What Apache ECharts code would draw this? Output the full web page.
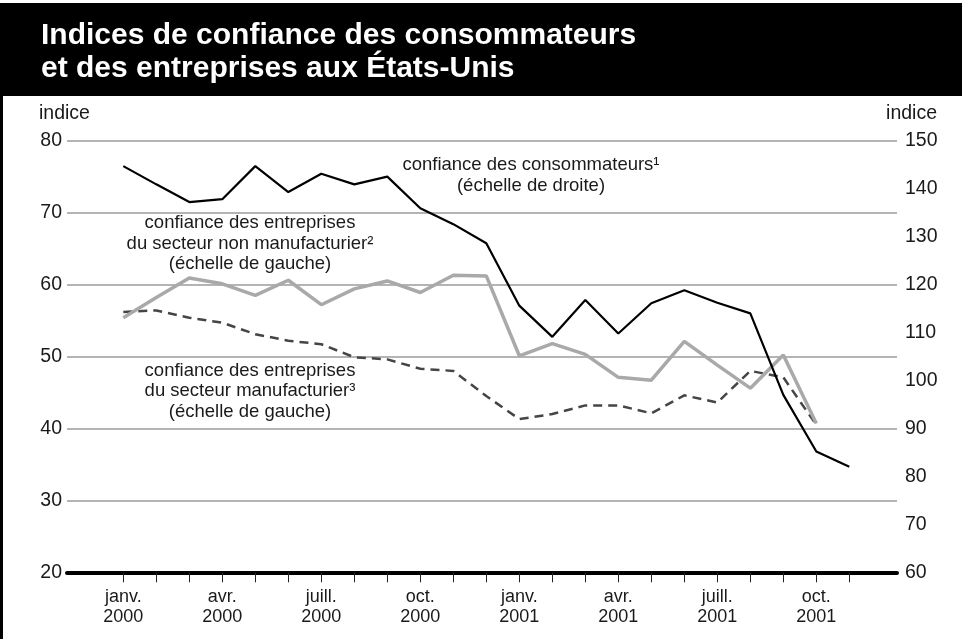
<!DOCTYPE html>
<html>
<head>
<meta charset="utf-8">
<script src="https://cdn.jsdelivr.net/npm/echarts@6/dist/echarts.min.js"></script>
<style>
	html, body { margin: 0; padding: 0; background: #fff; }
	#chart { width: 962px; height: 639px; }
</style>
</head>
<body>
<div id="chart"></div>
<script>
// mois : 0 = janv. 2000 ... 22 = nov. 2001
const tickMonths = [0, 1, 2, 3, 4, 5, 6, 7, 8, 9, 10, 11, 12, 13, 14, 15, 16, 17, 18, 19, 20, 21, 22];
const labelMonths = [0, 3, 6, 9, 12, 15, 18, 21];
const monthLabels = ['janv.\n2000', 'avr.\n2000', 'juill.\n2000', 'oct.\n2000',
	'janv.\n2001', 'avr.\n2001', 'juill.\n2001', 'oct.\n2001'];

// confiance des consommateurs (échelle de droite)
const consumers = [144.7, 140.9, 137.2, 137.8, 144.7, 139.3, 143.1, 140.9, 142.5, 135.9, 132.6, 128.6,
	115.6, 109.1, 116.8, 109.8, 116.1, 118.8, 116.2, 114.0, 97.0, 85.2, 82.0];
// secteur non manufacturier (échelle de gauche)
const nonManufacturing = [55.4, 58.2, 60.9, 60.1, 58.5, 60.6, 57.2, 59.4, 60.5, 58.9, 61.3, 61.2,
	50.1, 51.8, 50.3, 47.1, 46.7, 52.1, 48.8, 45.6, 50.2, 40.7];
// secteur manufacturier (échelle de gauche)
const manufacturing = [56.2, 56.4, 55.4, 54.7, 53.1, 52.2, 51.7, 49.9, 49.6, 48.3, 48.0, 44.5,
	41.3, 42.0, 43.2, 43.2, 42.1, 44.6, 43.6, 48.0, 47.1, 40.5];

const leftTicks = [20, 30, 40, 50, 60, 70, 80];
const rightTicks = [60, 70, 80, 90, 100, 110, 120, 130, 140, 150];

const FONT = '"Liberation Sans", Arial, Helvetica, sans-serif';
const TXT = '#1a1a1a';

const toPoints = arr => arr.map((v, i) => [i, v]);

function annotation(x, y, text, lineHeight) {
	return {
		type: 'text',
		x: x,
		y: y,
		style: {
			text: text,
			fill: TXT,
			font: '18.5px ' + FONT,
			textAlign: 'center',
			textVerticalAlign: 'middle',
			lineHeight: lineHeight
		}
	};
}

function titleLine(y, text) {
	return {
		type: 'text', x: 41, y: y, z: 10,
		style: {
			text: text,
			fill: '#fff',
			font: 'bold 30px ' + FONT,
			textAlign: 'left',
			textVerticalAlign: 'top'
		}
	};
}

const chart = echarts.init(document.getElementById('chart'), null, { renderer: 'canvas' });

chart.setOption({
	animation: false,
	backgroundColor: '#fff',
	grid: {
		left: 67,
		right: 65,
		top: 140.7,
		bottom: 66.7,
		containLabel: false
	},
	xAxis: {
		type: 'value',
		min: -1.706,
		max: 23.445,
		axisLine: {
			show: true,
			onZero: false,
			lineStyle: { color: '#000', width: 4 }
		},
		axisTick: {
			show: true,
			customValues: tickMonths,
			length: 10,
			lineStyle: { color: '#222', width: 1 }
		},
		axisLabel: {
			customValues: labelMonths,
			formatter: v => monthLabels[labelMonths.indexOf(Math.round(v))] || '',
			color: TXT,
			fontFamily: FONT,
			fontSize: 18,
			lineHeight: 19.5,
			margin: 15
		},
		splitLine: { show: false }
	},
	yAxis: [
		{
			type: 'value',
			min: leftTicks[0],
			max: leftTicks[leftTicks.length - 1],
			interval: 10,
			axisLine: { show: false },
			axisTick: { show: false },
			axisLabel: {
				color: TXT,
				fontFamily: FONT,
				fontSize: 19.5,
				margin: 5
			},
			splitLine: {
				lineStyle: { color: '#b4b4b4', width: 2 }
			}
		},
		{
			type: 'value',
			min: rightTicks[0],
			max: rightTicks[rightTicks.length - 1],
			interval: 10,
			position: 'right',
			axisLine: { show: false },
			axisTick: { show: false },
			axisLabel: {
				color: TXT,
				fontFamily: FONT,
				fontSize: 19.5,
				margin: 8
			},
			splitLine: { show: false }
		}
	],
	graphic: [
		// bandeau du titre
		{ type: 'rect', shape: { x: 0, y: 3, width: 962, height: 93 }, style: { fill: '#000' }, z: 0 },
		// bord gauche du cadre
		{ type: 'rect', shape: { x: 0, y: 3, width: 3, height: 636 }, style: { fill: '#000' }, z: 0 },
		titleLine(20.5, 'Indices de confiance des consommateurs'),
		titleLine(54, 'et des entreprises aux États-Unis'),
		{
			type: 'text', x: 39, y: 114,
			style: { text: 'indice', fill: TXT, font: '19.5px ' + FONT, textAlign: 'left', textVerticalAlign: 'middle' }
		},
		{
			type: 'text', x: 937, y: 114,
			style: { text: 'indice', fill: TXT, font: '19.5px ' + FONT, textAlign: 'right', textVerticalAlign: 'middle' }
		},
		annotation(531, 175.5, 'confiance des consommateurs¹\n(échelle de droite)', 21),
		annotation(250, 243.5, 'confiance des entreprises\ndu secteur non manufacturier²\n(échelle de gauche)', 20.5),
		annotation(250, 391.3, 'confiance des entreprises\ndu secteur manufacturier³\n(échelle de gauche)', 20.7)
	],
	series: [
		{
			name: 'secteur manufacturier',
			type: 'line',
			yAxisIndex: 0,
			data: toPoints(manufacturing),
			symbol: 'none',
			lineStyle: { color: '#454545', width: 2.5, type: [9, 6] },
			z: 3
		},
		{
			name: 'secteur non manufacturier',
			type: 'line',
			yAxisIndex: 0,
			data: toPoints(nonManufacturing),
			symbol: 'none',
			lineStyle: { color: '#a9a9a9', width: 3.5 },
			z: 4
		},
		{
			name: 'consommateurs',
			type: 'line',
			yAxisIndex: 1,
			data: toPoints(consumers),
			symbol: 'none',
			lineStyle: { color: '#000', width: 2.2 },
			z: 5
		}
	]
});
</script>
</body>
</html>
